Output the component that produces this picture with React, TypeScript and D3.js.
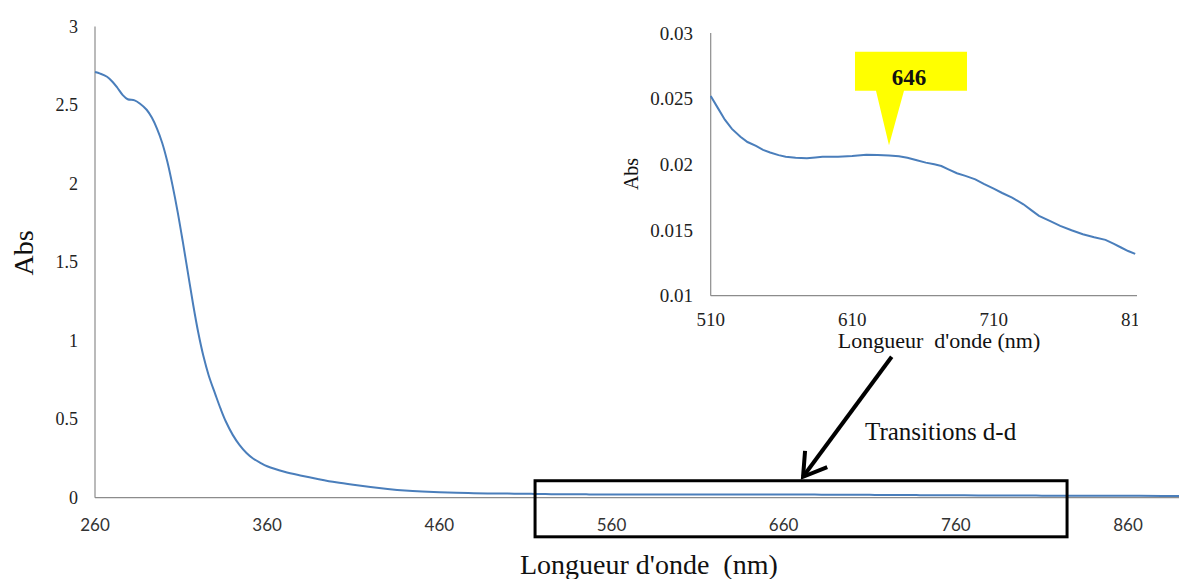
import React from 'react';
import * as d3 from 'd3';

// UV region (main spectrum, nm / Abs)
const uvWavelengths = [260, 263, 267, 270, 273, 276, 279, 283, 286, 290, 293, 296, 299, 302, 305, 308, 311, 314, 317, 320, 323, 326, 330, 333, 336, 340, 344, 348, 352, 356, 360, 370, 380, 390, 400, 410, 420, 430, 440, 450, 460, 470, 480, 490, 500];
const uvAbs = [2.71, 2.70, 2.68, 2.65, 2.61, 2.565, 2.537, 2.53, 2.51, 2.47, 2.42, 2.35, 2.26, 2.14, 1.99, 1.82, 1.63, 1.43, 1.23, 1.05, 0.90, 0.78, 0.655, 0.565, 0.485, 0.40, 0.335, 0.285, 0.248, 0.222, 0.20, 0.165, 0.14, 0.118, 0.098, 0.082, 0.068, 0.056, 0.046, 0.039, 0.034, 0.031, 0.029, 0.027, 0.026];

// Visible region (d-d transitions, shown in inset)
const visWavelengths = [510, 515, 520, 525, 531, 536, 542, 547, 552, 558, 563, 570, 578, 584, 589, 600, 610, 620, 628, 636, 643, 649, 655, 662, 668, 673, 678, 684, 690, 697, 703, 710, 716, 723, 731, 737, 742, 750, 757, 765, 773, 781, 789, 795, 800, 805, 810];
const visAbs = [0.0252, 0.0243, 0.0234, 0.0227, 0.0221, 0.0217, 0.0214, 0.0211, 0.0209, 0.0207, 0.02058, 0.0205, 0.02046, 0.02052, 0.02058, 0.02058, 0.02063, 0.02073, 0.02072, 0.02068, 0.02062, 0.0205, 0.02033, 0.02013, 0.02, 0.01987, 0.01962, 0.01932, 0.01912, 0.01886, 0.01852, 0.01815, 0.01782, 0.01747, 0.01696, 0.01648, 0.01608, 0.01568, 0.01532, 0.01498, 0.01468, 0.01445, 0.01425, 0.01395, 0.01367, 0.0134, 0.01318];

// NIR tail
const tailWavelengths = [820, 840, 860, 880, 895];
const tailAbs = [0.013, 0.0125, 0.012, 0.0116, 0.0113];

const mainXTicks = [260, 360, 460, 560, 660, 760, 860];
const mainYTicks = [0, 0.5, 1, 1.5, 2, 2.5, 3];
const insetXTicks = [510, 610, 710, 810];
const insetYTicks = [0.01, 0.015, 0.02, 0.025, 0.03];
const peakLabel = '646';
const peakPointer = { nm: 636, abs: 0.02146 };
const boxRange = { nm0: 515.6, nm1: 824.6, a0: 0.108, a1: -0.249 };
const annotationText = 'Transitions d-d';

const SERIF = '"Liberation Serif", "Times New Roman", serif';
const SANS = 'Lato, "Open Sans", sans-serif';
const LINE = '#4a7ebb';
const AXIS = '#8c8c8c';

export default function App() {
  const W = 1179, H = 579;
  const x = d3.scaleLinear().domain([260, 860]).range([95, 1128]);
  const y = d3.scaleLinear().domain([0, 3]).range([497.7, 26.5]);
  const xi = d3.scaleLinear().domain([510, 810]).range([710.7, 1135.2]);
  const yi = d3.scaleLinear().domain([0.01, 0.03]).range([295.7, 33]);

  const allW = [...uvWavelengths, ...visWavelengths, ...tailWavelengths];
  const allA = [...uvAbs, ...visAbs, ...tailAbs];
  const mainData = allW.map((w, i) => [w, allA[i]] as [number, number]);
  const insetData = visWavelengths.map((w, i) => [w, visAbs[i]] as [number, number]);

  const mainLine = d3.line<[number, number]>().x(d => x(d[0])).y(d => y(d[1])).curve(d3.curveCatmullRom.alpha(0.5));
  const insetLine = d3.line<[number, number]>().x(d => xi(d[0])).y(d => yi(d[1]));

  // callout
  const tipX = xi(peakPointer.nm), tipY = yi(peakPointer.abs);
  const bx0 = tipX - 34, bx1 = tipX + 78, by0 = 51.7, by1 = 90.7;
  const callout = `M${bx0},${by0} L${bx1},${by0} L${bx1},${by1} L${tipX + 15},${by1} L${tipX},${tipY} L${tipX - 13},${by1} L${bx0},${by1} Z`;

  // arrow
  const ax0 = 891.7, ay0 = 356.7;
  const ax1 = (x(boxRange.nm0) + x(boxRange.nm1)) / 2 + 2, ay1 = y(boxRange.a0) - 4;
  const ang = Math.atan2(ay0 - ay1, ax0 - ax1);
  const wl = 26, wa = (32 * Math.PI) / 180;
  const w1 = [ax1 + wl * Math.cos(ang - wa), ay1 + wl * Math.sin(ang - wa)];
  const w2 = [ax1 + wl * Math.cos(ang + wa), ay1 + wl * Math.sin(ang + wa)];

  const pre = { whiteSpace: 'pre' as const };

  return (
    <svg width={W} height={H} style={{ position: 'absolute', left: 0, top: 0, background: '#fff' }}>
      <defs>
        <clipPath id="insetClip">
          <rect x={600} y={0} width={538} height={579} />
        </clipPath>
        <clipPath id="pageClip">
          <rect x={0} y={0} width={W} height={H} />
        </clipPath>
      </defs>
      <rect x={0} y={0} width={W} height={H} fill="#fff" />

      {/* main axes */}
      <line x1={95} y1={y(3)} x2={95} y2={y(0)} stroke={AXIS} strokeWidth={1.2} />
      <line x1={95} y1={y(0)} x2={W} y2={y(0)} stroke={AXIS} strokeWidth={1.2} />
      {mainYTicks.map(t => (
        <text key={'my' + t} x={78} y={y(t)} dy="0.35em" textAnchor="end" fontFamily={SERIF} fontSize={18} fill="#222">
          {String(t)}
        </text>
      ))}
      {mainXTicks.map(t => (
        <text key={'mx' + t} x={x(t)} y={531} textAnchor="middle" fontFamily={SANS} fontSize={17} fill="#333">
          {t}
        </text>
      ))}
      <text transform={`translate(33,253) rotate(-90)`} textAnchor="middle" fontFamily={SERIF} fontSize={28} fill="#111">Abs</text>
      <text x={520} y={574} fontFamily={SERIF} fontSize={28} fill="#111" style={pre}>{"Longueur d'onde  (nm)"}</text>

      <path d={mainLine(mainData) || ''} fill="none" stroke={LINE} strokeWidth={2} clipPath="url(#pageClip)" />

      {/* highlight box */}
      <rect x={x(boxRange.nm0)} y={y(boxRange.a0)} width={x(boxRange.nm1) - x(boxRange.nm0)} height={y(boxRange.a1) - y(boxRange.a0)} fill="none" stroke="#000" strokeWidth={3} />

      {/* arrow */}
      <line x1={ax0} y1={ay0} x2={ax1} y2={ay1} stroke="#000" strokeWidth={4} />
      <polyline points={`${w1[0]},${w1[1]} ${ax1},${ay1} ${w2[0]},${w2[1]}`} fill="none" stroke="#000" strokeWidth={4} strokeLinejoin="miter" />
      <text x={865} y={440} fontFamily={SERIF} fontSize={25} fill="#111">{annotationText}</text>

      {/* inset */}
      <line x1={xi(510)} y1={yi(0.03)} x2={xi(510)} y2={yi(0.01)} stroke={AXIS} strokeWidth={1.2} />
      <line x1={xi(510)} y1={yi(0.01)} x2={1137} y2={yi(0.01)} stroke={AXIS} strokeWidth={1.2} />
      {insetYTicks.map(t => (
        <text key={'iy' + t} x={693} y={yi(t)} dy="0.35em" textAnchor="end" fontFamily={SERIF} fontSize={19} fill="#222">
          {String(t)}
        </text>
      ))}
      <g clipPath="url(#insetClip)">
        {insetXTicks.map(t => (
          <text key={'ix' + t} x={xi(t)} y={326} textAnchor="middle" fontFamily={SERIF} fontSize={19} fill="#222">
            {t}
          </text>
        ))}
      </g>
      <text transform={`translate(638,174) rotate(-90)`} textAnchor="middle" fontFamily={SERIF} fontSize={20} fill="#111">Abs</text>
      <text x={939} y={348} textAnchor="middle" fontFamily={SERIF} fontSize={22} fill="#111" style={pre}>{"Longueur  d'onde (nm)"}</text>
      <path d={insetLine(insetData) || ''} fill="none" stroke={LINE} strokeWidth={2} />

      {/* callout */}
      <path d={callout} fill="#ffff00" />
      <text x={909} y={85} textAnchor="middle" fontFamily={SERIF} fontWeight="bold" fontSize={23} fill="#111">{peakLabel}</text>
    </svg>
  );
}
